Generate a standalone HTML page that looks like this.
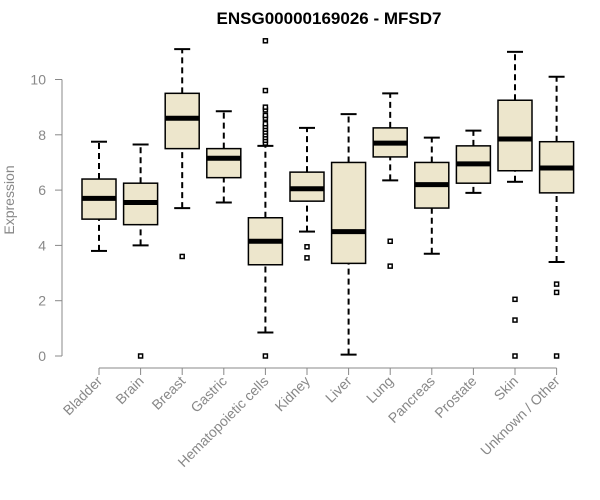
<!DOCTYPE html>
<html><head><meta charset="utf-8"><style>body{margin:0;background:#fff}svg{display:block;font-family:"Liberation Sans",sans-serif}</style></head>
<body>
<svg id="c" width="600" height="500">
<text x="329" y="24" text-anchor="middle" font-weight="bold" font-size="17">ENSG00000169026 - MFSD7</text>
<text transform="translate(14,200) rotate(-90)" text-anchor="middle" font-size="14" fill="#888">Expression</text>
</svg>
<script>
const categories=["Bladder","Brain","Breast","Gastric","Hematopoietic cells","Kidney","Liver","Lung","Pancreas","Prostate","Skin","Unknown / Other"];
const whiskerLow=[3.8,4.0,5.35,5.55,0.85,4.5,0.05,6.35,3.7,5.9,6.3,3.4];
const q1=[4.95,4.75,7.5,6.45,3.3,5.6,3.35,7.2,5.35,6.25,6.7,5.9];
const medians=[5.7,5.55,8.6,7.15,4.15,6.05,4.5,7.7,6.2,6.95,7.85,6.8];
const q3=[6.4,6.25,9.5,7.5,5.0,6.65,7.0,8.25,7.0,7.6,9.25,7.75];
const whiskerHigh=[7.75,7.65,11.1,8.85,7.6,8.25,8.75,9.5,7.9,8.15,11.0,10.1];
const outliers=[[],[0],[3.6],[],[0,7.7,7.8,7.9,8.0,8.1,8.2,8.3,8.4,8.6,8.7,8.9,9.0,9.6,11.4],[3.55,3.95],[],[3.25,4.15],[],[],[0,1.3,2.05],[0,2.3,2.6]];
const yTicks=[0,2,4,6,8,10];
const NS="http://www.w3.org/2000/svg",svg=document.getElementById('c');
const y=v=>356-v*27.65, x=i=>99+i*41.6;
function mk(t,a,p){const e=document.createElementNS(NS,t);for(const k in a)e.setAttribute(k,a[k]);(p||svg).appendChild(e);return e;}
const ax=mk('line',{x1:62,x2:62,y1:y(0),y2:y(10),stroke:'#888'});


yTicks.forEach(t=>{
 const l=mk('line',{x1:55,x2:62,y1:y(t),y2:y(t),stroke:'#888'});
 
 
 const tx=mk('text',{x:46,y:y(t)+5,'text-anchor':'end','font-size':14,fill:'#888'});tx.textContent=t;
 
 
});
const xa=mk('line',{x1:x(0),x2:x(11),y1:368,y2:368,stroke:'#888'});


categories.forEach((c,i)=>{
 const cx=x(i),hw=17;
 const g=mk('g',{});
 
 
 mk('line',{x1:cx,x2:cx,y1:y(whiskerLow[i]),y2:y(q1[i]),stroke:'#000','stroke-width':2,'stroke-dasharray':'6,4'},g);
 mk('line',{x1:cx,x2:cx,y1:y(q3[i]),y2:y(whiskerHigh[i]),stroke:'#000','stroke-width':2,'stroke-dasharray':'6,4'},g);
 mk('line',{x1:cx-8,x2:cx+8,y1:y(whiskerLow[i]),y2:y(whiskerLow[i]),stroke:'#000','stroke-width':2},g);
 mk('line',{x1:cx-8,x2:cx+8,y1:y(whiskerHigh[i]),y2:y(whiskerHigh[i]),stroke:'#000','stroke-width':2},g);
 mk('rect',{x:cx-hw,y:y(q3[i]),width:hw*2,height:y(q1[i])-y(q3[i]),fill:'#ede6cc',stroke:'#000','stroke-width':1.5},g);
 mk('line',{x1:cx-hw,x2:cx+hw,y1:y(medians[i]),y2:y(medians[i]),stroke:'#000','stroke-width':5},g);
 outliers[i].forEach(o=>{const r=mk('rect',{x:cx-2,y:y(o)-2,width:4,height:4,fill:'#fff',stroke:'#000','stroke-width':1.5},g);
  
  });
 const t=mk('line',{x1:cx,x2:cx,y1:368,y2:375,stroke:'#888'});
 
 
 const tx=mk('text',{transform:`translate(${cx+4},${382}) rotate(-45)`,'text-anchor':'end','font-size':14,fill:'#888'});tx.textContent=c;
 
 
});
</script>
</body></html>
